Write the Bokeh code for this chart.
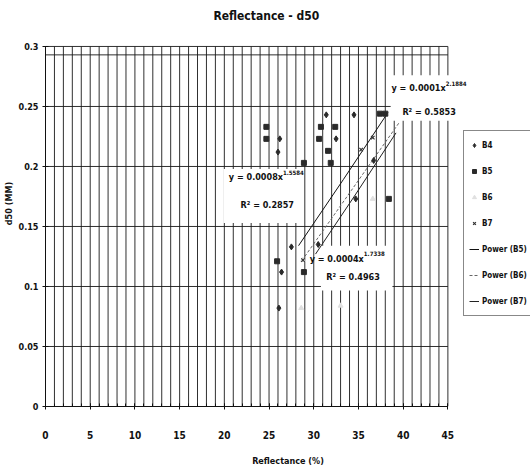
from bokeh.plotting import figure
from bokeh.models import Label, Legend, LegendItem, FixedTicker
from bokeh.embed import file_html
from bokeh.resources import INLINE

FONT = "'DejaVu Sans Condensed', 'Liberation Sans Narrow', 'Liberation Sans', sans-serif"

title_text = "Reflectance - d50"
x_label = "Reflectance (%)"
y_label = "d50 (MM)"

x_ticks = [0, 5, 10, 15, 20, 25, 30, 35, 40, 45]
y_ticks = [0, 0.05, 0.1, 0.15, 0.2, 0.25, 0.3]
y_tick_text = {0: "0", 0.05: "0.05", 0.1: "0.1", 0.15: "0.15", 0.2: "0.2", 0.25: "0.25", 0.3: "0.3"}
x_grid = list(range(0, 46))
y_grid = [0.05, 0.1, 0.15, 0.2, 0.25, 0.293, 0.3]

# series
b4_x = [31.4, 34.5, 26.2, 26.0, 32.5, 27.5, 26.4, 30.5, 26.1, 34.7, 36.7]
b4_y = [0.243, 0.243, 0.223, 0.212, 0.223, 0.133, 0.112, 0.135, 0.082, 0.173, 0.205]
b5_x = [24.7, 24.7, 30.8, 32.4, 30.6, 31.6, 31.9, 28.9, 37.4, 38.0, 38.4, 25.9, 28.9]
b5_y = [0.233, 0.223, 0.233, 0.233, 0.223, 0.213, 0.203, 0.203, 0.244, 0.244, 0.173, 0.121, 0.112]
b6_x = [28.8, 28.6, 36.6, 33.0]
b6_y = [0.122, 0.082, 0.173, 0.084]
b7_x = [35.3, 36.6, 28.8]
b7_y = [0.214, 0.224, 0.122]

# trend lines
pw5_x = [28.3, 33.3, 38.3]
pw5_y = [0.134, 0.189, 0.245]
pw6_x = [29.0, 34.2, 39.5]
pw6_y = [0.125, 0.180, 0.236]
pw7_x = [30.2, 34.7, 39.2]
pw7_y = [0.127, 0.177, 0.228]

# equation boxes: left, right, bottom, top
eq_left = [38.6, 19.9, 30.8]
eq_right = [47.5, 28.3, 38.8]
eq_bottom = [0.238, 0.153, 0.0967]
eq_top = [0.276, 0.198, 0.134]
eq_base = ["y = 0.0001x", "y = 0.0008x", "y = 0.0004x"]
eq_exp = ["2.1884", "1.5584", "1.7338"]
eq_r2 = ["0.5853", "0.2857", "0.4963"]
eq_join_x = [44.75, 26.56, 35.6]
eq_line1_y = [0.265, 0.191, 0.123]
eq_r2_x = [42.9, 24.8, 34.4]
eq_r2_y = [0.245, 0.1675, 0.1075]

X_MAX = 45
Y_MAX = 0.3
p = figure(width=530, height=470, x_range=(0, 54.24), y_range=(0, 0.3383),
           output_backend="svg", toolbar_location=None,
           min_border_left=44, min_border_right=0, min_border_top=0, min_border_bottom=64)
p.background_fill_color = "white"
p.border_fill_color = "white"
p.outline_line_color = None
p.xgrid.visible = False
p.ygrid.visible = False

# grid lines only across the 0..45 x 0..0.3 plot area
p.segment(x0=x_grid, x1=x_grid, y0=[0] * len(x_grid), y1=[Y_MAX] * len(x_grid),
          line_color="#1a1a1a", line_width=1, line_alpha=0.9)
p.segment(x0=[0] * len(y_grid), x1=[X_MAX] * len(y_grid), y0=y_grid, y1=y_grid,
          line_color="#1a1a1a", line_width=1, line_alpha=0.9)

p.xaxis.ticker = FixedTicker(ticks=x_ticks, minor_ticks=x_grid)
p.xaxis.bounds = (0, X_MAX)
p.yaxis.ticker = FixedTicker(ticks=y_ticks)
p.yaxis.bounds = (0, Y_MAX)
p.yaxis.major_label_overrides = y_tick_text
for ax in (p.xaxis[0], p.yaxis[0]):
    ax.axis_line_color = "#111111"
    ax.major_tick_line_color = "#111111"
    ax.major_tick_out = 3
    ax.major_tick_in = 3
    ax.minor_tick_out = 0
    ax.minor_tick_in = 3
    ax.minor_tick_line_color = "#111111"
    ax.major_label_text_font = FONT
    ax.major_label_text_font_style = "bold"
    ax.major_label_text_color = "#111111"
    ax.axis_label_text_font = FONT
    ax.axis_label_text_font_size = "9px"
    ax.axis_label_text_font_style = "bold"
    ax.axis_label_text_color = "#111111"
p.xaxis.major_label_text_font_size = "10px"
p.yaxis.major_label_text_font_size = "9px"
p.xaxis.axis_label = x_label
p.yaxis.axis_label = y_label
p.xaxis.major_label_standoff = 21
p.xaxis.axis_label_standoff = 14
p.yaxis.major_label_standoff = 4
p.yaxis.axis_label_standoff = 2

# title as a label above the plot area
p.add_layout(Label(x=24.7, y=0.325, text=title_text, text_align="center", text_baseline="middle",
                   text_font=FONT, text_font_size="12px", text_font_style="bold",
                   text_color="#111111"))

# equation label boxes
p.quad(left=eq_left, right=eq_right, bottom=eq_bottom, top=eq_top,
       fill_color="white", line_color=None)

# trend lines
r_pw5 = p.line(pw5_x, pw5_y, line_color="#111111", line_width=1)
r_pw6 = p.line(pw6_x, pw6_y, line_color="#666666", line_width=1, line_dash="3 2")
r_pw7 = p.line(pw7_x, pw7_y, line_color="#222222", line_width=1)

r4 = p.scatter(b4_x, b4_y, marker="diamond", size=6, fill_color="#2a2a2a", line_color="#2a2a2a")
r5 = p.scatter(b5_x, b5_y, marker="square", size=5, fill_color="#2a2a2a", line_color="#2a2a2a")
r6 = p.scatter(b6_x, b6_y, marker="triangle", size=5, fill_color="#e0e0e0", line_color="#e0e0e0")
r7 = p.scatter(b7_x, b7_y, marker="x", size=5, line_color="#333333", line_width=1.2)

for i in range(3):
    p.add_layout(Label(x=eq_join_x[i], y=eq_line1_y[i], text=eq_base[i], text_align="right",
                       text_baseline="middle", text_font=FONT, text_font_size="9px",
                       text_font_style="bold", text_color="#111111"))
    p.add_layout(Label(x=eq_join_x[i], y=eq_line1_y[i], y_offset=5, text=eq_exp[i], text_align="left",
                       text_baseline="middle", text_font=FONT, text_font_size="6px",
                       text_font_style="bold", text_color="#111111"))
    p.add_layout(Label(x=eq_r2_x[i], y=eq_r2_y[i], text="R² = " + eq_r2[i], text_align="center",
                       text_baseline="middle", text_font=FONT, text_font_size="9px",
                       text_font_style="bold", text_color="#111111"))

legend = Legend(items=[
    LegendItem(label="B4", renderers=[r4]),
    LegendItem(label="B5", renderers=[r5]),
    LegendItem(label="B6", renderers=[r6]),
    LegendItem(label="B7", renderers=[r7]),
    LegendItem(label="Power (B5)", renderers=[r_pw5]),
    LegendItem(label="Power (B6)", renderers=[r_pw6]),
    LegendItem(label="Power (B7)", renderers=[r_pw7]),
], location=(418, 90))
legend.label_text_font = FONT
legend.label_text_font_size = "8px"
legend.label_text_font_style = "bold"
legend.label_text_color = "#111111"
legend.border_line_color = "#111111"
legend.background_fill_color = "white"
legend.background_fill_alpha = 1
legend.glyph_width = 10
legend.glyph_height = 18
legend.label_height = 18
legend.spacing = 8
legend.padding = 5
legend.margin = 0
legend.label_standoff = 3
p.add_layout(legend, "center")

open("out.html", "w").write(file_html(p, INLINE))
